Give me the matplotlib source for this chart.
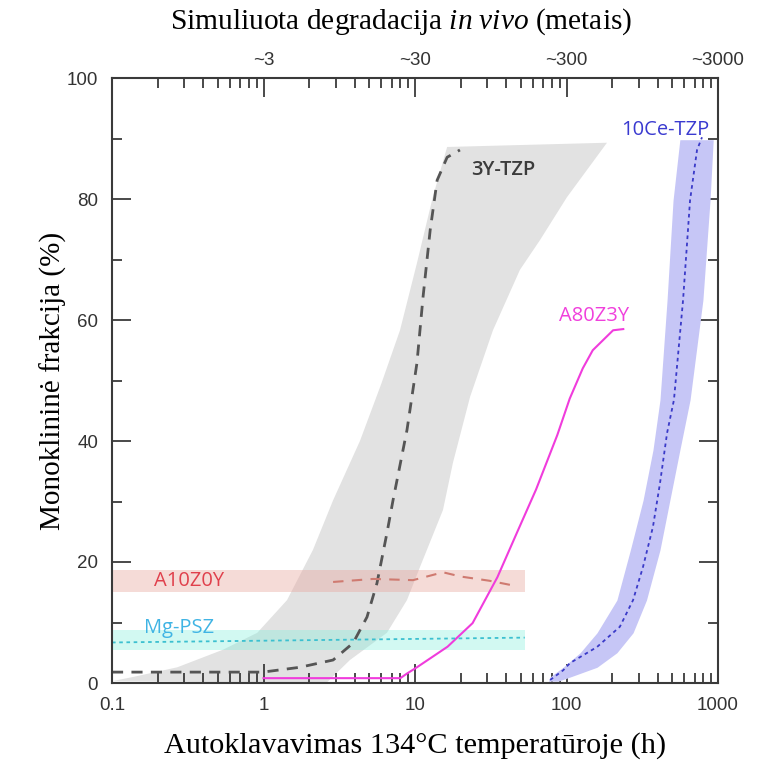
import matplotlib
matplotlib.use("Agg")
import matplotlib.pyplot as plt

plt.rcParams["mathtext.fontset"] = "custom"
plt.rcParams["mathtext.rm"] = "Liberation Serif"
plt.rcParams["mathtext.it"] = "Liberation Serif:italic"

# 3Y-TZP scatter band: left edge (bottom -> top), right edge (top -> bottom)
band_3y_left_h = [0.1, 0.138, 0.27, 0.54, 0.91, 1.43, 2.12, 2.88, 4.33, 6.0, 7.96, 10.3, 13.1, 16.3]
band_3y_left_pct = [0.3, 1.0, 2.6, 5.5, 8.3, 13.7, 22.0, 30.2, 40.0, 49.5, 58.3, 69.4, 80.3, 88.6]
band_3y_right_h = [185, 100.7, 66.8, 49.3, 32.7, 23.1, 17.8, 15.3, 10.8, 8.85, 6.53, 3.72, 2.6]
band_3y_right_pct = [89.3, 80.3, 73.2, 68.3, 58.3, 47.3, 36.4, 28.6, 19.2, 13.7, 8.3, 3.8, 0.0]

# 3Y-TZP typical curve
y3_h = [0.1, 0.5, 0.99, 1.74, 2.88, 3.9, 4.82, 5.61, 6.53, 7.16, 8.85, 10.3, 11.3, 12.6, 14.0, 16.3, 19.8]
y3_pct = [1.8, 1.8, 1.8, 2.6, 3.8, 6.6, 10.9, 16.5, 24.8, 30.2, 41.8, 52.9, 63.8, 74.9, 83.1, 86.9, 88.1]

# A80Z3Y
a80_h = [1, 3, 8.0, 8.9, 10.3, 16.4, 24, 35, 47, 63, 87, 105, 128, 149, 203, 237]
a80_pct = [0.8, 0.8, 0.8, 1.6, 2.6, 6.0, 9.9, 17.5, 24.8, 32, 41, 47, 52, 55, 58.3, 58.5]

# A10Z0Y
a10_h = [2.88, 5.3, 9.7, 15.3, 20, 31, 47]
a10_pct = [16.7, 17.2, 17.0, 18.3, 17.6, 16.9, 16.0]
a10_band_h = [0.1, 53]
a10_band_low = [15.0, 15.0]
a10_band_high = [18.7, 18.7]

# Mg-PSZ
mg_h = [0.1, 53]
mg_pct = [6.7, 7.5]
mg_band_low = [5.4, 5.4]
mg_band_high = [8.8, 8.8]

# 10Ce-TZP curve and band
ce_h = [78, 95, 105.5, 159, 225, 275, 320, 372, 414, 461, 512, 588, 654, 727, 784]
ce_pct = [0.5, 2.1, 3.3, 5.95, 9.3, 13.7, 19.2, 25.8, 33, 41.3, 46.8, 63.3, 79.8, 88.1, 90.2]
ce_band_pct = [0.3, 1, 2.6, 5, 8.3, 13.7, 22, 30.2, 38.5, 46.8, 63.3, 79.8, 89.8]
ce_band_left = [76, 77.8, 94.9, 123, 159, 215, 264, 320, 372, 414, 461, 505, 560]
ce_band_right = [88, 106, 159, 215, 275, 337, 414, 481, 560, 654, 795, 886, 930]

x_ticks = [0.1, 1, 10, 100, 1000]
x_ticklabels = ["0.1", "1", "10", "100", "1000"]
top_ticks = [1, 10, 100, 1000]
top_ticklabels = ["~3", "~30", "~300", "~3000"]

label_font = "Open Sans"
serif = "Liberation Serif"
axis_col = "#3a3a3a"

fig = plt.figure(figsize=(7.7, 7.65), dpi=100)
ax = fig.add_axes([112 / 770, 1 - 683 / 765, 606 / 770, 605 / 765])

ax.fill(band_3y_left_h + band_3y_right_h, band_3y_left_pct + band_3y_right_pct,
        color="#e2e2e2", lw=0, zorder=1)
ax.fill_between(a10_band_h, a10_band_low, a10_band_high, color="#e8a59c", alpha=0.4, lw=0, zorder=2)
ax.fill_between(mg_h, mg_band_low, mg_band_high, color="#7ef0dc", alpha=0.35, lw=0, zorder=2)
ax.fill_betweenx(ce_band_pct, ce_band_left, ce_band_right, color="#c6c6f6", lw=0, zorder=2)

ax.plot(y3_h, y3_pct, color="#555555", lw=2, dashes=(4, 3), zorder=4)
ax.plot(a80_h, a80_pct, color="#f03cdc", lw=1.5, zorder=4)
ax.plot(a10_h, a10_pct, color="#cf7a70", lw=1.5, dashes=(5, 4), zorder=4)
ax.plot(mg_h, mg_pct, color="#3cc0d0", lw=1.3, dashes=(2, 2), zorder=4)
ax.plot(ce_h, ce_pct, color="#3a3ac8", lw=1.3, dashes=(2, 2), zorder=4)

ax.text(38.5, 84.8, "3Y-TZP", color="#3c3c3c", fontsize=14.5, weight="semibold",
        family=label_font, ha="center", va="center", zorder=5)
ax.text(447, 91.4, "10Ce-TZP", color="#3a3ad0", fontsize=14.5, family=label_font,
        ha="center", va="center", zorder=5)
ax.text(152, 60.7, "A80Z3Y", color="#f040dc", fontsize=14.5, family=label_font,
        ha="center", va="center", zorder=5)
ax.text(0.322, 16.8, "A10Z0Y", color="#e0404c", fontsize=14.5, family=label_font,
        ha="center", va="center", zorder=5)
ax.text(0.277, 9.1, "Mg-PSZ", color="#40b4e4", fontsize=14.5, family=label_font,
        ha="center", va="center", zorder=5)

ax.set_xscale("log")
ax.set_xlim(0.1, 1000)
ax.set_ylim(0, 100)
ax.set_xticks(x_ticks, labels=x_ticklabels)
ax.set_yticks(range(0, 101, 20))
ax.set_yticks(range(10, 100, 20), minor=True)

for side in ax.spines.values():
    side.set_color(axis_col)
    side.set_linewidth(1.5)
    side.set_zorder(6)

ax.tick_params(which="both", direction="in", color=axis_col, width=1.3,
               right=True, labelsize=13.5, labelcolor="#333333", pad=10)
ax.tick_params(which="major", length=14)
ax.tick_params(which="minor", length=7)
for lab in ax.get_xticklabels() + ax.get_yticklabels():
    lab.set_family("Liberation Sans")

top = ax.secondary_xaxis("top")
top.set_xticks(top_ticks, labels=top_ticklabels)
top.tick_params(which="both", direction="in", color=axis_col, width=1.3,
                labelsize=13.5, labelcolor="#333333", pad=6.5)
top.tick_params(which="major", length=14)
top.tick_params(which="minor", length=7)
for lab in top.get_xticklabels():
    lab.set_family("Liberation Sans")
top.spines["top"].set_visible(False)

fig.text(401 / 770, 1 - 22 / 765, "Simuliuota degradacija $\\mathit{in\\ vivo}$ (metais)",
         family=serif, fontsize=21.2, ha="center", va="center")
ax.set_xlabel("Autoklavavimas 134°C temperatūroje (h)", family=serif, fontsize=21.8, labelpad=13)
ax.set_ylabel("Monoklininė frakcija (%)", family=serif, fontsize=21, labelpad=0)

fig.savefig("out.png", dpi=100)
